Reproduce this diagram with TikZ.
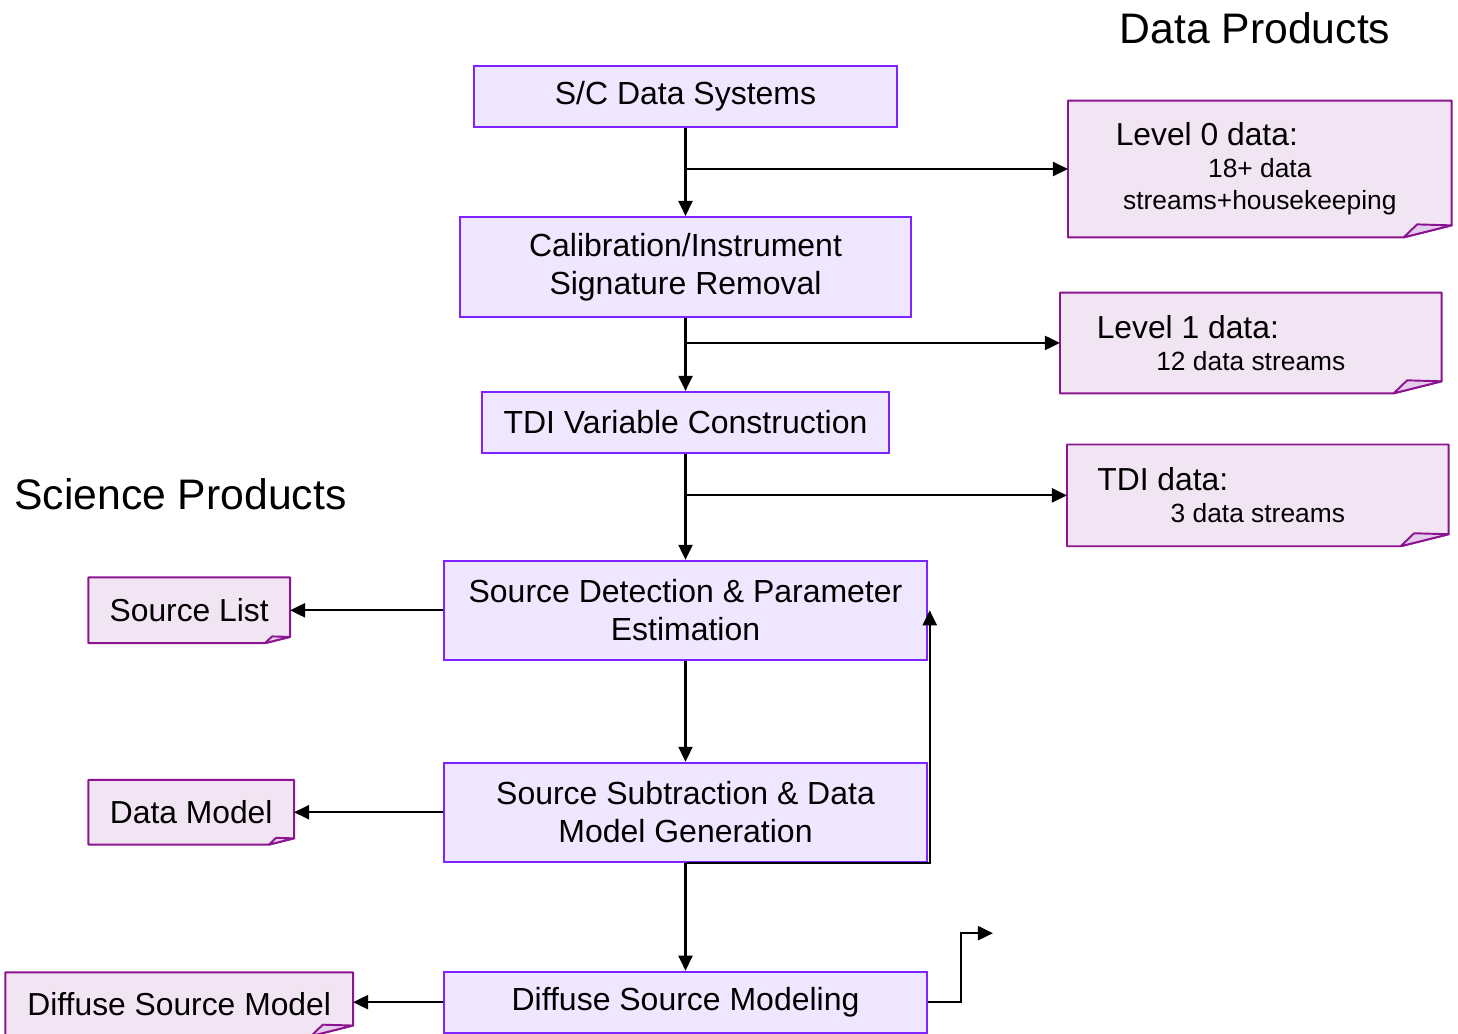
\documentclass[tikz,border=0pt]{standalone}
\usepackage{fontspec}
\setmainfont{Liberation Sans}
\usetikzlibrary{arrows.meta, positioning, backgrounds, calc}

\definecolor{stepline}{RGB}{127,35,255}
\definecolor{stepfill}{RGB}{239,231,255}
\definecolor{noteline}{RGB}{140,20,145}
\definecolor{notefill}{RGB}{242,229,243}
\definecolor{flapfill}{RGB}{228,205,236}

\newcommand\subtxt{\fontsize{15}{18.2}\selectfont}

\tikzset{
    procbox/.style={rectangle, draw=stepline, fill=stepfill, line width=1.1pt, minimum width=#1, minimum height=1.22cm, align=center, font=\fontsize{18.2}{21.6}\selectfont, inner sep=2pt},
    prodnote/.style={rectangle, minimum width=#1, minimum height=1.3cm, align=center, font=\fontsize{18.1}{18.2}\selectfont, inner sep=2pt},
    flow/.style={-{Triangle[length=3mm, width=2.8mm]}, line width=1.2pt, black},
    heading/.style={font=\fontsize{24.3}{28}\selectfont}
}

\begin{document}
\begin{tikzpicture}
\useasboundingbox (0,0) rectangle (29.16,-20.66);

% processing chain
\node[procbox=8.46cm] (scds) at (13.71,-1.93) {S/C Data Systems};
\node[procbox=9.02cm, minimum height=2cm, below=1.76cm of scds] (calib) {Calibration/Instrument\\Signature Removal};
\node[procbox=8.14cm, below=1.46cm of calib] (tdi) {TDI Variable Construction};
\node[procbox=9.66cm, minimum height=1.98cm, below=2.12cm of tdi] (srcdet) {Source Detection \& Parameter\\Estimation};
\node[procbox=9.66cm, minimum height=1.98cm, below=2.02cm of srcdet] (srcsub) {Source Subtraction \& Data\\Model Generation};
\node[procbox=9.66cm, below=2.16cm of srcsub] (diffuse) {Diffuse Source Modeling};

% data products
\node[heading] (dprod) at (25.1,-0.56) {Data Products};
\node[prodnote=7.66cm, minimum height=2.72cm, right=3.4cm of scds, yshift=-1.45cm] (lvl0) {Level 0 data:\hspace*{2.12cm}\\{\subtxt 18+ data}\\{\subtxt streams+housekeeping}};
\node[prodnote=7.62cm, minimum height=2cm, right=2.96cm of calib, yshift=-1.52cm] (lvl1) {Level 1 data:\hspace*{2.52cm}\\{\subtxt 12 data streams}};
\node[prodnote=7.62cm, minimum height=2.02cm, right=3.54cm of tdi, yshift=-1.46cm] (tdidat) {TDI data:\hspace*{3.8cm}\\{\subtxt 3 data streams}};

% science products
\node[heading, anchor=west] (sprod) at (0.16,-9.88) {Science Products};
\node[prodnote=4.02cm, left=3.06cm of srcdet] (srclist) {Source List};
\node[prodnote=4.1cm, minimum height=1.28cm, left=2.98cm of srcsub] (datmod) {Data Model};
\node[prodnote=6.94cm, minimum height=1.26cm, left=1.8cm of diffuse, yshift=-0.04cm] (difmod) {Diffuse Source Model};

% note outlines with folded corner
\begin{scope}[on background layer]
\foreach \n/\f in {lvl0/0.96, lvl1/0.96, tdidat/0.96, srclist/0.5, datmod/0.5, difmod/0.84} {
    \filldraw[draw=noteline, fill=notefill, line width=1.1pt, line join=round] (\n.north west) -- (\n.north east) -- ($(\n.south east)+(0,0.25*\f)$) -- ($(\n.south east)+(-\f,0)$) -- (\n.south west) -- cycle;
    \filldraw[draw=noteline, fill=flapfill, line width=1.1pt, line join=round] ($(\n.south east)+(-\f,0)$) -- ($(\n.south east)+(-0.72*\f,0.27*\f)$) -- ($(\n.south east)+(0,0.25*\f)$) -- cycle;
}
\end{scope}

% main flow
\draw[flow] (scds) -- (calib);
\draw[flow] (calib) -- (tdi);
\draw[flow] (tdi) -- (srcdet);
\draw[flow] (srcdet) -- (srcsub);
\draw[flow] (srcsub) -- (diffuse);

% taps to data products
\draw[flow] (scds.south |- lvl0.west) -- (lvl0.west);
\draw[flow] (calib.south |- lvl1.west) -- (lvl1.west);
\draw[flow] (tdi.south |- tdidat.west) -- (tdidat.west);

% outputs to science products
\draw[flow] (srcdet.west) -- (srclist.east);
\draw[flow] (srcsub.west) -- (datmod.east);
\draw[flow] (diffuse.west) -- (difmod.east |- diffuse.west);

% feedback and onward output
\draw[flow] (srcsub.south) -| ([xshift=1pt]srcdet.east);
\coordinate (onward) at ($(diffuse.east)+(1.3,1.38)$);
\draw[flow] (diffuse.east) -- ++(0.66,0) |- (onward);

\end{tikzpicture}
\end{document}
